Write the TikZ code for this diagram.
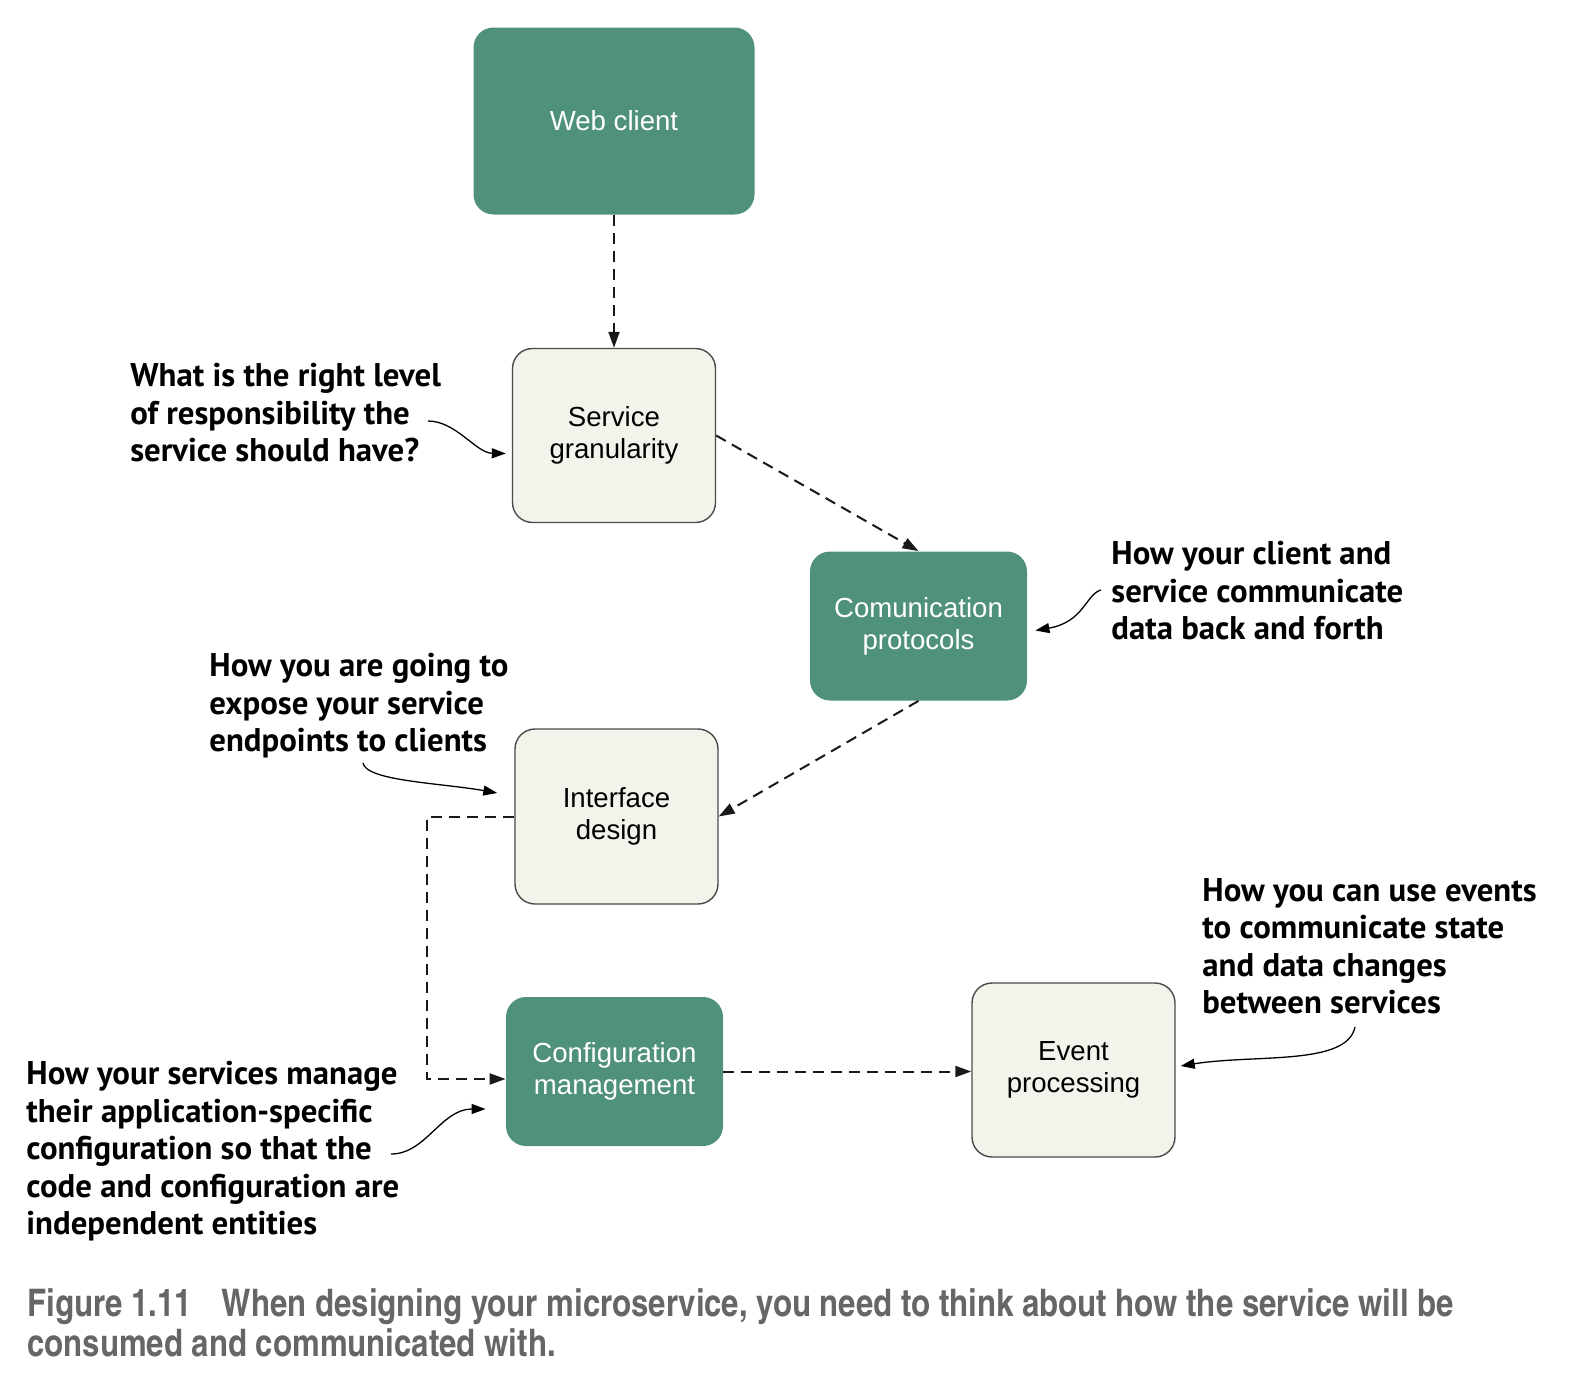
\documentclass[tikz,border=0pt]{standalone}
\usepackage{fontspec}
\usetikzlibrary{arrows.meta,calc}
\newfontfamily\boxfont{Liberation Sans}
\newfontfamily\notefont{PT Sans}
\newfontfamily\capfont{texgyreheroscn}[Extension=.otf,UprightFont=*-bold]
\definecolor{boxgreen}{HTML}{509279}
\definecolor{boxlight}{HTML}{F3F3EB}
\definecolor{boxline}{HTML}{4A4A4A}
\definecolor{capgray}{HTML}{666666}
\tikzset{
  greenbox/.style={draw=none,fill=boxgreen,rounded corners=10pt,text=white,align=center,
    font=\boxfont\fontsize{13.8pt}{16pt}\selectfont},
  lightbox/.style={draw=boxline,line width=0.7pt,fill=boxlight,rounded corners=10pt,text=black,align=center,
    font=\boxfont\fontsize{13.8pt}{16pt}\selectfont},
  flow/.style={draw=black!90,line width=1pt,dash pattern=on 5.5pt off 3.5pt,-{Triangle[length=8pt,width=5.5pt]}},
  note/.style={align=left,inner sep=0pt,anchor=north west,text=black,
    font=\notefont\bfseries\fontsize{16.4pt}{18.75pt}\selectfont},
  notearrow/.style={draw=black,line width=0.65pt,-{Triangle[length=7pt,width=5pt]}},
}
\begin{document}
\begin{tikzpicture}[x=0.5pt,y=-0.5pt]
\useasboundingbox (0,0) rectangle (1576,1392);
% boxes
\node[greenbox,minimum width=140.5pt,minimum height=93.5pt] (wc) at (614,121) {Web client};
\node[lightbox,minimum width=101.5pt,minimum height=87pt] (sg) at (614,435.5) {Service\\granularity};
\node[greenbox,minimum width=108.5pt,minimum height=74.5pt] (cp) at (918.5,626) {Comunication\\protocols};
\node[lightbox,minimum width=101.5pt,minimum height=87.5pt] (id) at (616.5,816.5) {Interface\\design};
\node[greenbox,minimum width=108.5pt,minimum height=74.5pt] (cm) at (614.5,1071.5) {Configuration\\management};
\node[lightbox,minimum width=101.5pt,minimum height=87pt] (ep) at (1073.5,1070) {Event\\processing};
% flow connectors
\draw[flow] (wc.south) -- (sg.north);
\draw[flow] (sg.east) -- (cp.north);
\draw[flow] (cp.south) -- (id.east);
\draw[flow] (id.west) -- ++(-87,0) |- ($(cm.west)+(0,7.5)$);
\draw[flow] (cm.east) -- (cm.east -| ep.west);
% notes
\node[note] (n1) at (130,363) {What is the right level\\of responsibility the\\service should have?};
\node[note] (n2) at (1111,541) {How your client and\\service communicate\\data back and forth};
\node[note] (n3) at (209,653) {How you are going to\\expose your service\\endpoints to clients};
\node[note] (n4) at (1202,878) {How you can use events\\to communicate state\\and data changes\\between services};
\node[note] (n5) at (26,1061) {How your services manage\\their application-specific\\configuration so that the\\code and configuration are\\independent entities};
% note arrows
\coordinate (s1) at (428,421);
\coordinate (s2) at (1101,590);
\coordinate (s3) at (363,763);
\coordinate (s4) at (1355,1027);
\coordinate (s5) at (391,1154);
\draw[notearrow] (s1) .. controls (456,421) and (476,453) .. ($(sg.west)+(-6,18)$);
\draw[notearrow] (s2) .. controls (1086,594) and (1084,622) .. ($(cp.east)+(8,4.5)$);
\draw[notearrow] (s3) .. controls (366,781) and (441,783) .. ($(id.west)+(-17,-23.5)$);
\draw[notearrow] (s4) .. controls (1347,1066) and (1255,1054) .. ($(ep.east)+(5,-4)$);
\draw[notearrow] (s5) .. controls (426,1154) and (441,1109) .. ($(cm.west)+(-20,37.5)$);
% caption
\node[align=left,inner sep=0pt,anchor=north west,text=capgray,font=\capfont\fontsize{19pt}{20pt}\selectfont] (cap) at (27,1288)
  {Figure 1.11\hspace{15pt}When designing your microservice, you need to think about how the service will be\\consumed and communicated with.};
\end{tikzpicture}
\end{document}
